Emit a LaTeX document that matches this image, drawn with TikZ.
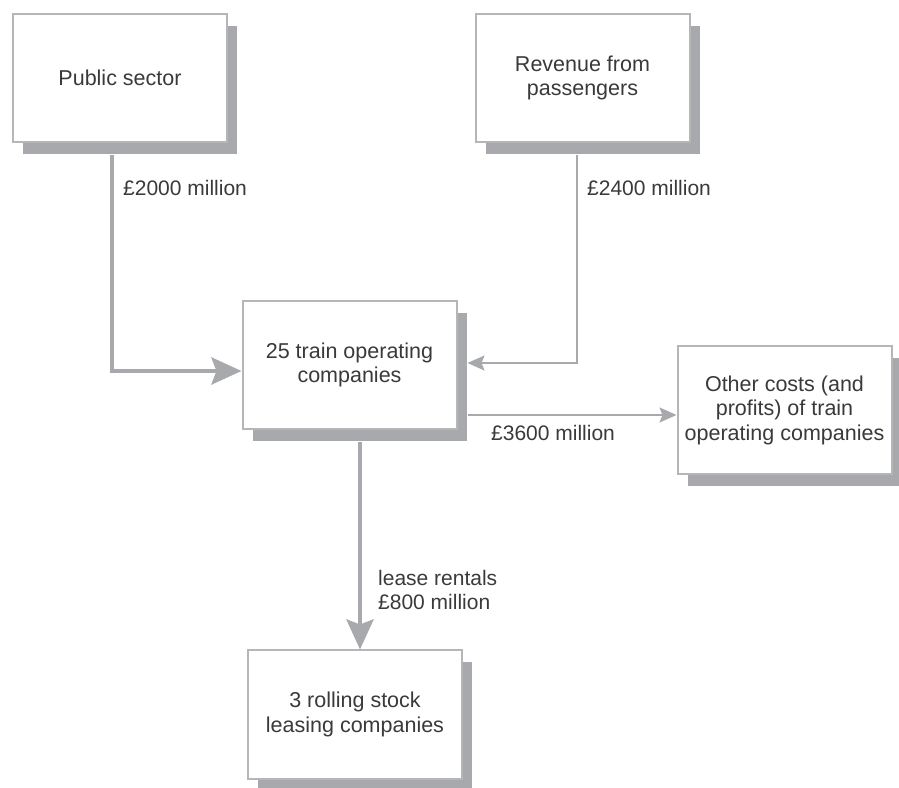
\documentclass[tikz,border=0pt]{standalone}
\usepackage{fontspec}
\setmainfont{Liberation Sans}
\usepackage{tikz}
\usetikzlibrary{arrows.meta}
\usetikzlibrary{calc}
\usetikzlibrary{shadows}

\definecolor{boxedge}{HTML}{B5B6B8}
\definecolor{shadowgray}{HTML}{A8A9AC}
\definecolor{flowgray}{HTML}{A8A9AC}
\definecolor{textgray}{HTML}{3A3A3A}

\begin{document}
\begin{tikzpicture}[x=1pt,y=1pt,
        railbox/.style={draw=boxedge, line width=2pt, fill=white, text=textgray,
            minimum width=\figrailboxwidth, minimum height=\figrailboxheight,
            align=center, font=\fontsize{21.5}{24.5}\selectfont,
            general shadow={draw=none, fill=shadowgray, shadow xshift=10pt, shadow yshift=-12pt}},
        flowlabel/.style={anchor=west, inner sep=0pt, text=textgray, align=left,
            font=\fontsize{21}{24.5}\selectfont},
        thickflow/.style={draw=flowgray, line width=4.5pt,
            -{Stealth[length=30pt,width=27pt,inset=5pt]}},
        thinflow/.style={draw=flowgray, line width=2pt,
            -{Stealth[length=17pt,width=15pt,inset=3pt]}}]
        \newcommand{\figrailboxwidth}{214pt}
        \newcommand{\figrailboxheight}{128pt}
        \newcommand{\figrailshadowx}{10pt}
        \newcommand{\figrailshadowy}{-12pt}
        \useasboundingbox (0,0) rectangle (899,787);
        % boxes
        \node[railbox] (pub) at (120,709) {Public sector};
        \node[railbox] (rev) at (582.5,709) {Revenue from\\passengers};
        \node[railbox] (toc) at (349.5,422) {25 train operating\\companies};
        \node[railbox] (oth) at (784.5,377) {Other costs (and\\profits) of train\\operating companies};
        \node[railbox] (lsc) at (355,72.5) {3 rolling stock\\leasing companies};
        % money flows
        \draw[thickflow] ([xshift=-8pt,yshift=\figrailshadowy]pub.south) |- ([yshift=-6pt]toc.west);
        \draw[thinflow] ([xshift=-5.5pt,yshift=\figrailshadowy]rev.south) |- ([xshift=\figrailshadowx,yshift=2pt]toc.east);
        \draw[thinflow] ([xshift=\figrailshadowx,yshift=-50pt]toc.east) -- ([yshift=-5pt]oth.west);
        \draw[thickflow] ([xshift=10.5pt,yshift=\figrailshadowy]toc.south) -- ([xshift=5pt]lsc.north);
        % amounts
        \node[flowlabel] (lpub) at (123,599) {£2000 million};
        \node[flowlabel] (lrev) at (587,599) {£2400 million};
        \node[flowlabel] (loth) at (491,354) {£3600 million};
        \node[flowlabel] (llsc) at (378,197) {lease rentals\\£800 million};
\end{tikzpicture}
\end{document}
